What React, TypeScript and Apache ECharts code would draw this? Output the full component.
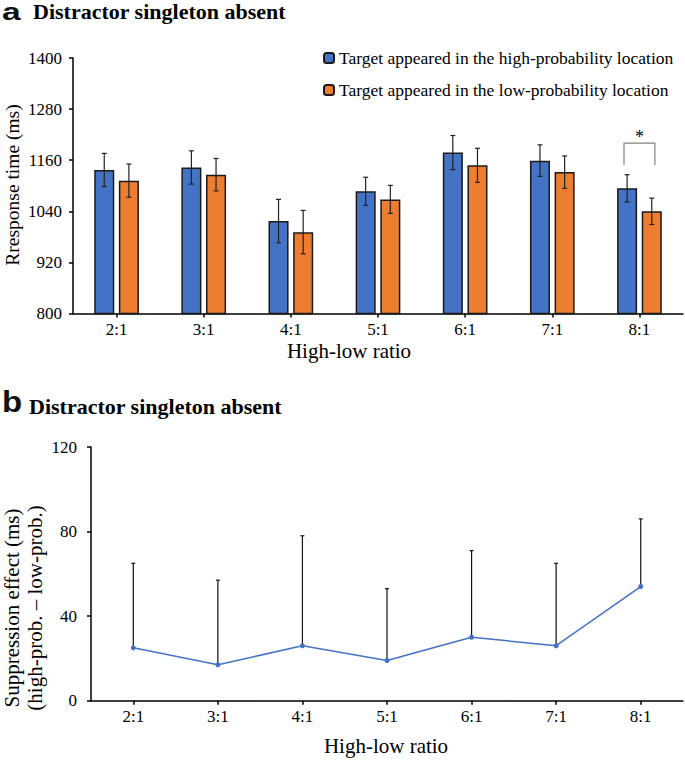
import React, { useEffect, useRef } from "react";
import * as echarts from "echarts";

const categories = ["2:1", "3:1", "4:1", "5:1", "6:1", "7:1", "8:1"];
const highProbMean = [1137, 1143, 1017, 1087, 1178, 1159, 1094];
const highProbErr = [39, 39, 51, 33, 40, 37, 32];
const lowProbMean = [1112, 1126, 991, 1068, 1148, 1132, 1040];
const lowProbErr = [39, 38, 51, 33, 40, 38, 31];
const suppressionEffect = [25, 17, 26, 19, 30, 26, 54];
const suppressionErr = [40, 40, 52, 34, 41, 39, 32];
const sigBracket = [[6, 1149, 1200]];

const SERIF = "Liberation Serif";
const SANS = "Liberation Sans";
const BLUE = "#4472C4";
const ORANGE = "#ED7D31";

export default function App() {
  const ref = useRef<HTMLDivElement>(null);
  useEffect(() => {
    if (!ref.current) return;
    const chart = echarts.init(ref.current, null, { renderer: "svg" });

    const errData: number[][] = [];
    categories.forEach((_, i) => {
      errData.push([i, highProbMean[i] - highProbErr[i], highProbMean[i] + highProbErr[i], -1]);
      errData.push([i, lowProbMean[i] - lowProbErr[i], lowProbMean[i] + lowProbErr[i], 1]);
    });
    const effErr = suppressionEffect.map((v, i) => [i, v, v + suppressionErr[i]]);

    const axisLine = { show: true, lineStyle: { color: "#000", width: 1.5 } };
    const axisTick = { show: true, length: 4, lineStyle: { color: "#000", width: 1.5 } };
    const labelStyle = { color: "#000", fontFamily: SERIF, fontSize: 17 };
    const plain = (v: number) => String(v);

    const option: any = {
      animation: false,
      backgroundColor: "#fff",
      textStyle: { fontFamily: SERIF },
      legend: {
        orient: "vertical",
        left: 318,
        top: 44,
        itemWidth: 10,
        itemHeight: 10,
        itemGap: 14,
        textStyle: { color: "#000", fontFamily: SERIF, fontSize: 17.5 },
        data: ["Target appeared in the high-probability location", "Target appeared in the low-probability location"],
      },
      grid: [
        { left: 73, top: 58, width: 610, height: 255.5 },
        { left: 91, top: 447, width: 592, height: 253.7 },
      ],
      xAxis: [
        {
          type: "category", gridIndex: 0, data: categories,
          axisLine, axisTick: { ...axisTick, alignWithLabel: true },
          axisLabel: { ...labelStyle, margin: 7 },
        },
        {
          type: "category", gridIndex: 1, data: categories,
          axisLine, axisTick: { ...axisTick, alignWithLabel: true },
          axisLabel: { ...labelStyle, margin: 7 },
        },
      ],
      yAxis: [
        {
          type: "value", gridIndex: 0, min: 800, max: 1400, interval: 120,
          axisLine, axisTick, splitLine: { show: false },
          axisLabel: { ...labelStyle, margin: 11, formatter: plain },
        },
        {
          type: "value", gridIndex: 1, min: 0, max: 120, interval: 40,
          axisLine, axisTick, splitLine: { show: false },
          axisLabel: { ...labelStyle, margin: 14, formatter: plain },
        },
      ],
      series: [
        {
          name: "Target appeared in the high-probability location",
          type: "bar", xAxisIndex: 0, yAxisIndex: 0, data: highProbMean,
          barWidth: "23%", barGap: "23%",
          itemStyle: { color: BLUE, borderColor: "#1a1a1a", borderWidth: 1.5 },
        },
        {
          name: "Target appeared in the low-probability location",
          type: "bar", xAxisIndex: 0, yAxisIndex: 0, data: lowProbMean,
          barWidth: "23%", barGap: "23%",
          itemStyle: { color: ORANGE, borderColor: "#1a1a1a", borderWidth: 1.5 },
        },
        {
          type: "custom", xAxisIndex: 0, yAxisIndex: 0, z: 10, data: errData,
          encode: { x: 0, y: [1, 2] },
          renderItem: (params: any, api: any) => {
            const ci = api.value(0), lo = api.value(1), hi = api.value(2), side = api.value(3);
            const band = api.size([1, 0])[0];
            const off = side * band * 0.1415;
            const pLo = api.coord([ci, lo]);
            const pHi = api.coord([ci, hi]);
            const x = pLo[0] + off;
            const cap = 2.5;
            const st = { stroke: "#222", lineWidth: 1.2 };
            return {
              type: "group",
              children: [
                { type: "line", shape: { x1: x, y1: pLo[1], x2: x, y2: pHi[1] }, style: st },
                { type: "line", shape: { x1: x - cap, y1: pHi[1], x2: x + cap, y2: pHi[1] }, style: st },
                { type: "line", shape: { x1: x - cap, y1: pLo[1], x2: x + cap, y2: pLo[1] }, style: st },
              ],
            };
          },
        },
        {
          type: "custom", xAxisIndex: 0, yAxisIndex: 0, z: 10, data: sigBracket,
          encode: { x: 0, y: [1, 2] },
          renderItem: (params: any, api: any) => {
            const ci = api.value(0), lo = api.value(1), hi = api.value(2);
            const band = api.size([1, 0])[0];
            const hw = band * 0.177;
            const pLo = api.coord([ci, lo]);
            const pHi = api.coord([ci, hi]);
            const x = pLo[0];
            return {
              type: "group",
              children: [
                {
                  type: "polyline",
                  shape: { points: [[x - hw, pLo[1]], [x - hw, pHi[1]], [x + hw, pHi[1]], [x + hw, pLo[1]]] },
                  style: { stroke: "#808080", lineWidth: 1.2, fill: null },
                },
                {
                  type: "text", x: x, y: pHi[1] + 3,
                  style: { text: "*", fontFamily: SERIF, fontSize: 18, fill: "#000", align: "center", verticalAlign: "bottom" },
                },
              ],
            };
          },
        },
        {
          type: "line", xAxisIndex: 1, yAxisIndex: 1, data: suppressionEffect,
          symbol: "circle", symbolSize: 5, showSymbol: true,
          lineStyle: { color: BLUE, width: 1.5 }, itemStyle: { color: BLUE },
        },
        {
          type: "custom", xAxisIndex: 1, yAxisIndex: 1, z: 1, data: effErr,
          encode: { x: 0, y: [1, 2] },
          renderItem: (params: any, api: any) => {
            const ci = api.value(0), lo = api.value(1), hi = api.value(2);
            const pLo = api.coord([ci, lo]);
            const pHi = api.coord([ci, hi]);
            const x = pLo[0];
            const cap = 2;
            const st = { stroke: "#111", lineWidth: 1.2 };
            return {
              type: "group",
              children: [
                { type: "line", shape: { x1: x, y1: pLo[1], x2: x, y2: pHi[1] }, style: st },
                { type: "line", shape: { x1: x - cap, y1: pHi[1], x2: x + cap, y2: pHi[1] }, style: st },
              ],
            };
          },
        },
      ],
      graphic: [
        { type: "text", x: 2, y: 0, scaleX: 1.4, style: { text: "a", fontFamily: SANS, fontWeight: "bold", fontSize: 24, lineHeight: 24, fill: "#111", verticalAlign: "top" } },
        { type: "text", x: 33, y: 11, style: { text: "Distractor singleton absent", fontFamily: SERIF, fontWeight: "bold", fontSize: 22, fill: "#000", verticalAlign: "middle" } },
        { type: "text", x: 2, y: 402, scaleX: 1.1, style: { text: "b", fontFamily: SANS, fontWeight: "bold", fontSize: 30, fill: "#111", verticalAlign: "middle" } },
        { type: "text", x: 29, y: 406, style: { text: "Distractor singleton absent", fontFamily: SERIF, fontWeight: "bold", fontSize: 22, fill: "#000", verticalAlign: "middle" } },
        { type: "text", x: 12, y: 185, rotation: Math.PI / 2, style: { text: "Rresponse time (ms)", fontFamily: SERIF, fontSize: 19.5, fill: "#000", align: "center", verticalAlign: "middle" } },
        { type: "text", x: 23, y: 608, rotation: Math.PI / 2, style: { text: "Suppression effect (ms)\n(high-prob. \u2013 low-prob.)", fontFamily: SERIF, fontSize: 21, lineHeight: 23, fill: "#000", align: "center", verticalAlign: "middle" } },
        { type: "text", x: 349, y: 351, style: { text: "High-low ratio", fontFamily: SERIF, fontSize: 21, fill: "#000", align: "center", verticalAlign: "middle" } },
        { type: "text", x: 386, y: 746, style: { text: "High-low ratio", fontFamily: SERIF, fontSize: 21, fill: "#000", align: "center", verticalAlign: "middle" } },
      ],
    };
    chart.setOption(option);
    return () => chart.dispose();
  }, []);
  return <div ref={ref} style={{ width: 685, height: 760, position: "absolute", left: 0, top: 0 }} />;
}
